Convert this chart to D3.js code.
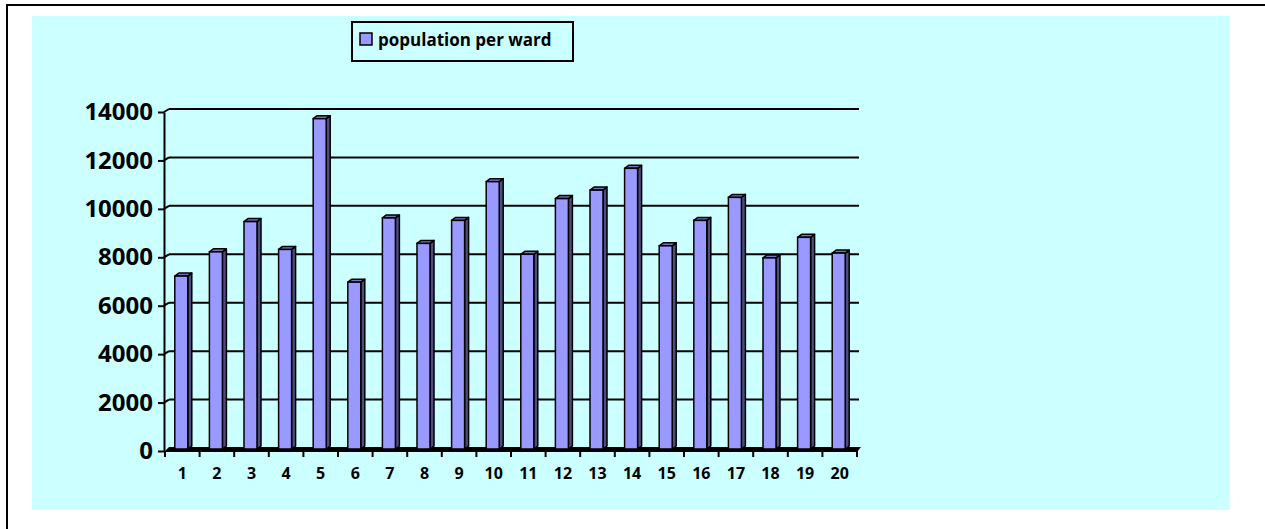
<!DOCTYPE html>
<html>
<head>
<meta charset="utf-8">
<script src="https://cdn.jsdelivr.net/npm/d3@7"></script>
<style>
  html, body { margin: 0; padding: 0; background: #ffffff; }
  svg { display: block; }
</style>
</head>
<body>
<svg id="chart" width="1265" height="529"></svg>
<script>
const categories = ["1","2","3","4","5","6","7","8","9","10","11","12","13","14","15","16","17","18","19","20"];
const population = [7100, 8100, 9350, 8200, 13600, 6850, 9500, 8450, 9400, 11000, 8000, 10300, 10650, 11550, 8350, 9400, 10350, 7850, 8700, 8050];
const yTicks = [0, 2000, 4000, 6000, 8000, 10000, 12000, 14000];
const seriesName = "population per ward";

const svg = d3.select("#chart");
const font = "'Open Sans', 'Liberation Sans', sans-serif";

// outer frame
svg.append("line").attr("x1", 6).attr("x2", 1265).attr("y1", 5).attr("y2", 5)
  .attr("stroke", "#000").attr("stroke-width", 2);
svg.append("line").attr("x1", 7).attr("x2", 7).attr("y1", 4).attr("y2", 529)
  .attr("stroke", "#000").attr("stroke-width", 2);

// chart area background
svg.append("rect").attr("x", 32).attr("y", 16).attr("width", 1198).attr("height", 494)
  .attr("fill", "#ccffff");

const x = d3.scaleBand().domain(categories).range([165, 857]).padding(0);
const y = d3.scaleLinear().domain([0, 14000]).range([448, 109]);
const dx = 4, dy = 3;

// gridlines on back wall
svg.append("g").selectAll("line").data(yTicks.filter(t => t > 0)).join("line")
  .attr("x1", 165 + dx).attr("x2", 859)
  .attr("y1", d => y(d)).attr("y2", d => y(d))
  .attr("stroke", "#000").attr("stroke-width", 2);

// connectors from front axis ticks to back wall
svg.append("g").selectAll("line").data(yTicks.filter(t => t > 0)).join("line")
  .attr("x1", 164).attr("x2", 165 + dx)
  .attr("y1", d => y(d) + dy).attr("y2", d => y(d))
  .attr("stroke", "#000").attr("stroke-width", 2);

// y axis
const yAxis = d3.axisLeft(y).tickValues(yTicks).tickSize(6).tickSizeOuter(0).tickPadding(5)
  .tickFormat(d3.format("d"));
const gy = svg.append("g").attr("transform", `translate(164,${dy})`).call(yAxis);
gy.select(".domain").attr("stroke", "#000").attr("stroke-width", 2);
gy.selectAll(".tick line").attr("stroke", "#000").attr("stroke-width", 2);
gy.selectAll(".tick text").attr("font-family", font).attr("font-weight", "bold")
  .attr("font-size", "24px").attr("fill", "#000");

// floor (seen edge-on)
svg.append("polygon")
  .attr("points", [[164, y(0) + dy + 1], [165 + dx, y(0) - 1], [861, y(0) - 1], [857, y(0) + dy + 1]].map(p => p.join(",")).join(" "))
  .attr("fill", "#000");

// x category boundary ticks
const bounds = categories.map(c => x(c)).concat([x.range()[1]]);
svg.append("g").selectAll("line").data(bounds).join("line")
  .attr("x1", d => d).attr("x2", d => d)
  .attr("y1", y(0) + dy).attr("y2", y(0) + dy + 6)
  .attr("stroke", "#000").attr("stroke-width", 2);

// x axis labels
const xAxis = d3.axisBottom(x).tickSize(0).tickPadding(17);
const gx = svg.append("g").attr("transform", `translate(0,${y(0) + dy})`).call(xAxis);
gx.select(".domain").remove();
gx.selectAll(".tick text").attr("font-family", font).attr("font-weight", "bold")
  .attr("font-size", "16px").attr("fill", "#000");

// 3D bars
const bw = 13;
const bars = svg.append("g").selectAll("g").data(categories.map((c, i) => ({ c, v: population[i] }))).join("g");
const fx = d => x(d.c) + x.bandwidth() / 2 - 1 - bw / 2;
const base = y(0) + 1;
bars.append("polygon")
  .attr("points", d => {
    const l = fx(d) + bw, t = y(d.v);
    return [[l, t], [l + dx, t - dy], [l + dx, base - dy], [l, base]].map(p => p.join(",")).join(" ");
  })
  .attr("fill", "#4d4d80").attr("stroke", "#000").attr("stroke-width", 1.5).attr("stroke-linejoin", "round");
bars.append("polygon")
  .attr("points", d => {
    const l = fx(d), t = y(d.v);
    return [[l, t], [l + dx, t - dy], [l + bw + dx, t - dy], [l + bw, t]].map(p => p.join(",")).join(" ");
  })
  .attr("fill", "#7373bf").attr("stroke", "#000").attr("stroke-width", 1.5).attr("stroke-linejoin", "round");
bars.append("rect")
  .attr("x", d => fx(d)).attr("y", d => y(d.v))
  .attr("width", bw).attr("height", d => base - y(d.v))
  .attr("fill", "#9999ff").attr("stroke", "#000").attr("stroke-width", 1.5);

// legend
const lg = svg.append("g");
lg.append("rect").attr("x", 352).attr("y", 22).attr("width", 221).attr("height", 39)
  .attr("fill", "#ccffff").attr("stroke", "#000").attr("stroke-width", 2);
lg.append("rect").attr("x", 360).attr("y", 33).attr("width", 12).attr("height", 12)
  .attr("fill", "#9999ff").attr("stroke", "#000").attr("stroke-width", 1.5);
lg.append("text").attr("x", 378).attr("y", 46).text(seriesName)
  .attr("font-family", font).attr("font-weight", "bold").attr("font-size", "17px").attr("fill", "#000");
</script>
</body>
</html>
